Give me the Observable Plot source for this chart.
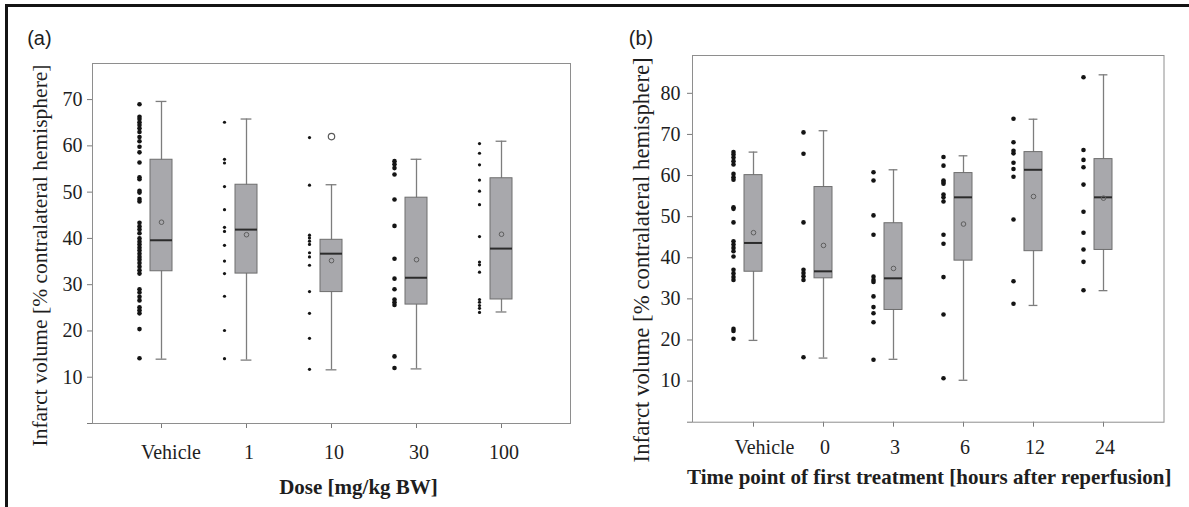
<!DOCTYPE html>
<html><head><meta charset="utf-8">
<script src="https://cdn.jsdelivr.net/npm/d3@7"></script>
<script src="https://cdn.jsdelivr.net/npm/@observablehq/plot@0.6"></script>
<style>
html,body{margin:0;padding:0;background:#fff;}
#fig{position:relative;width:1189px;height:507px;overflow:hidden;background:#fff;}
#border{position:absolute;left:5px;top:4px;right:-10px;bottom:-10px;border-top:3px solid #141414;border-left:3px solid #141414;}
#pa{position:absolute;left:0;top:0;}
#pb{position:absolute;left:600px;top:0;}
#fig svg text{font-family:'Liberation Serif','Times New Roman',serif;}
#fig svg .tag text{font-family:'Liberation Sans',Arial,sans-serif;}
</style></head><body>
<div id="fig"><div id="border"></div><div id="pa"></div><div id="pb"></div></div>
<script>
// ---------- Panel (a): dose ----------
const doseGroups = ["Vehicle", "1", "10", "30", "100"];
const doseVehicle = [69.0, 66.3, 65.8, 65.1, 64.5, 63.8, 63.0, 61.9, 61.0, 59.8, 58.6, 56.4, 53.2, 52.8, 50.3, 49.9, 48.5, 48.0, 43.4, 42.6, 41.9, 41.1, 40.0, 39.3, 38.7, 38.0, 37.4, 36.7, 36.0, 35.4, 34.7, 33.9, 33.1, 32.4, 29.0, 28.3, 27.4, 26.6, 25.1, 24.5, 23.8, 20.4, 14.1];
const dose1 = [65.1, 57.1, 56.3, 51.2, 46.2, 42.4, 41.5, 38.5, 35.1, 32.4, 27.5, 20.1, 14.0];
const dose10 = [61.8, 51.5, 40.7, 40.1, 39.4, 38.7, 36.9, 36.0, 34.2, 28.5, 23.8, 18.4, 11.7];
const dose30 = [56.7, 56.0, 55.2, 53.8, 48.4, 42.7, 35.6, 31.3, 29.0, 26.8, 26.2, 25.6, 14.5, 12.0];
const dose100 = [60.5, 58.4, 55.9, 52.6, 50.2, 47.3, 40.4, 34.9, 34.3, 32.7, 26.8, 26.2, 25.5, 24.9, 24.0];
const doseLow = [13.9, 13.7, 11.6, 11.8, 24.1];
const doseQ1 = [32.9, 32.4, 28.4, 25.7, 26.8];
const doseMedian = [39.6, 41.9, 36.7, 31.5, 37.8];
const doseQ3 = [57.0, 51.6, 39.7, 48.8, 53.0];
const doseHigh = [69.6, 65.8, 51.6, 57.1, 61.0];
const doseMean = [43.5, 40.8, 35.2, 35.4, 40.9];
const doseOutlierGroups = ["10"];
const doseOutlierValues = [62.0];
const doseYTicks = [0, 10, 20, 30, 40, 50, 60, 70];

// ---------- Panel (b): time point ----------
const timeGroups = ["Vehicle", "0", "3", "6", "12", "24"];
const timeVehicle = [65.7, 65.1, 64.4, 63.5, 62.7, 60.4, 59.6, 59.0, 52.3, 51.9, 48.6, 44.0, 43.2, 42.4, 41.6, 40.3, 37.1, 36.2, 35.3, 34.6, 22.7, 22.2, 20.3];
const time0 = [70.5, 65.3, 48.6, 37.1, 36.3, 35.5, 34.6, 15.8];
const time3 = [60.8, 58.8, 50.3, 45.6, 35.4, 34.6, 34.1, 30.6, 28.0, 26.5, 24.3, 15.2];
const time6 = [64.5, 62.4, 58.8, 58.4, 58.0, 55.4, 54.7, 53.7, 45.6, 43.4, 35.3, 26.2, 10.7];
const time12 = [73.8, 68.1, 66.0, 65.4, 63.1, 61.6, 59.7, 49.3, 34.3, 28.8];
const time24 = [83.9, 66.2, 63.8, 62.0, 57.8, 51.2, 46.1, 42.0, 39.0, 32.1];
const timeLow = [19.9, 15.6, 15.3, 10.2, 28.4, 32.0];
const timeQ1 = [36.6, 35.0, 27.3, 39.3, 41.6, 41.9];
const timeMedian = [43.6, 36.7, 35.0, 54.7, 61.4, 54.7];
const timeQ3 = [60.1, 57.2, 48.4, 60.6, 65.7, 64.0];
const timeHigh = [65.7, 70.9, 61.4, 64.8, 73.7, 84.5];
const timeMean = [46.1, 43.0, 37.4, 48.2, 54.9, 54.5];
const timeYTicks = [0, 10, 20, 30, 40, 50, 60, 70, 80];

const yLabelText = "Infarct volume [% contralateral hemisphere]";
const serif = "'Liberation Serif','Times New Roman',serif";

function panel(o) {
  const raw = o.cats.flatMap((c, i) => o.series[i].map(v => ({group: c, value: v})));
  const stats = o.cats.map((c, i) => ({group: c, lo: o.lo[i], q1: o.q1[i], med: o.med[i], q3: o.q3[i], hi: o.hi[i], mean: o.mean[i]}));
  const outl = o.outGroups.map((g, i) => ({group: g, value: o.outValues[i]}));
  const whisk = "#7d7d7d";
  return Plot.plot({
    width: o.width, height: 507,
    marginLeft: o.m[0], marginRight: o.m[1], marginTop: o.m[2], marginBottom: o.m[3],
    style: {fontFamily: serif, fontSize: "20px", color: "#1e1e1e", background: "transparent", overflow: "visible"},
    x: {type: "band", domain: o.cats, paddingInner: o.pi, paddingOuter: o.po},
    y: {domain: [0, o.yMax]},
    marks: [
      Plot.axisY({ticks: o.yTicks, tickSize: 5, tickPadding: o.padY, tickFormat: d => d === 0 ? "" : String(d), label: null, fontSize: 20, fontFamily: serif, stroke: "#7a7a7a"}),
      Plot.axisX({tickSize: 5, tickFormat: () => "", label: null, stroke: "#7a7a7a"}),
      Plot.axisX({ticks: o.cats.slice(0, 1), tickSize: 0, tickPadding: o.padX, dx: o.vehDx, label: null, fontSize: 20, fontFamily: serif}),
      Plot.axisX({ticks: o.cats.slice(1), tickSize: 0, tickPadding: o.padX, dx: o.otherDx, label: null, fontSize: 20, fontFamily: serif}),
      Plot.frame({stroke: "#8e8e8e"}),
      Plot.ruleX(stats, {x: "group", y1: "lo", y2: "hi", stroke: whisk, strokeWidth: 1.3}),
      Plot.tickY(stats, {x: "group", y: "hi", stroke: whisk, strokeWidth: 1.3, insetLeft: o.capInset, insetRight: o.capInset}),
      Plot.tickY(stats, {x: "group", y: "lo", stroke: whisk, strokeWidth: 1.3, insetLeft: o.capInset, insetRight: o.capInset}),
      Plot.barY(stats, {x: "group", y1: "q1", y2: "q3", fill: "#a8a8ac", stroke: "#6e6e6e", strokeWidth: 1}),
      Plot.tickY(stats, {x: "group", y: "med", stroke: "#2b2b2b", strokeWidth: 2}),
      Plot.dot(stats, {x: "group", y: "mean", r: 2.3, stroke: "#5e5e5e", fill: "none", strokeWidth: 1}),
      Plot.dot(outl, {x: "group", y: "value", r: 3.2, stroke: "#5a5a5a", fill: "#fff", strokeWidth: 1.2}),
      Plot.dot(raw, {filter: d => o.bigGroups.includes(d.group), x: "group", y: "value", dx: o.dotDx, r: o.bigR, fill: "#141414"}),
      Plot.dot(raw, {filter: d => !o.bigGroups.includes(d.group), x: "group", y: "value", dx: o.dotDx, r: o.smallR, fill: "#141414"}),
      Plot.text([o.tag], {text: d => d, className: "tag", frameAnchor: "top-left", textAnchor: "start", lineAnchor: "middle", dx: o.tagDx, dy: o.tagDy, fontFamily: "'Liberation Sans',Arial,sans-serif", fontSize: 20, fill: "#1e1e1e"}),
      Plot.text([o.xLabel], {text: d => d, frameAnchor: "bottom", lineAnchor: "top", dx: o.xLabelDx, dy: o.xLabelDy, fontWeight: "bold", fontSize: 21, fontFamily: serif, fill: "#1e1e1e"}),
      Plot.text([yLabelText], {text: d => d, frameAnchor: "left", rotate: -90, textAnchor: "middle", lineAnchor: "middle", dx: o.yLabelDx, dy: o.yLabelDy, fontSize: o.yLabelSize, fontFamily: serif, fill: "#1e1e1e"})
    ]
  });
}

document.getElementById("pa").append(panel({
  cats: doseGroups, series: [doseVehicle, dose1, dose10, dose30, dose100],
  lo: doseLow, q1: doseQ1, med: doseMedian, q3: doseQ3, hi: doseHigh, mean: doseMean,
  outGroups: doseOutlierGroups, outValues: doseOutlierValues,
  width: 600, m: [92, 30, 63, 84], yMax: 77.8, yTicks: doseYTicks,
  pi: 0.744, po: 0.652, padY: 5, padX: 21, vehDx: 9.5, otherDx: 2.5,
  capInset: 5.6, dotDx: -22, bigGroups: ["Vehicle", "30"], bigR: 2.3, smallR: 1.6,
  tag: "(a)", tagDx: -65.3, tagDy: -25.4,
  xLabel: "Dose [mg/kg BW]", xLabelDx: 27, xLabelDy: 55.4,
  yLabelDx: -52.7, yLabelDy: 12, yLabelSize: 21.5
}));

document.getElementById("pb").append(panel({
  cats: timeGroups, series: [timeVehicle, time0, time3, time6, time12, time24],
  lo: timeLow, q1: timeQ1, med: timeMedian, q3: timeQ3, hi: timeHigh, mean: timeMean,
  outGroups: [], outValues: [],
  width: 589, m: [92, 25.5, 55, 85.3], yMax: 89.2, yTicks: timeYTicks,
  pi: 0.742, po: 0.711, padY: 7, padX: 17.4, vehDx: 11, otherDx: 1.5,
  capInset: 4.6, dotDx: -20, bigGroups: timeGroups, bigR: 2.3, smallR: 2.3,
  tag: "(b)", tagDx: -63.7, tagDy: -17.4,
  xLabel: "Time point of first treatment [hours after reperfusion]", xLabelDx: 1, xLabelDy: 46.7,
  yLabelDx: -50.3, yLabelDy: 21, yLabelSize: 22.8
}));
</script>
</body></html>
